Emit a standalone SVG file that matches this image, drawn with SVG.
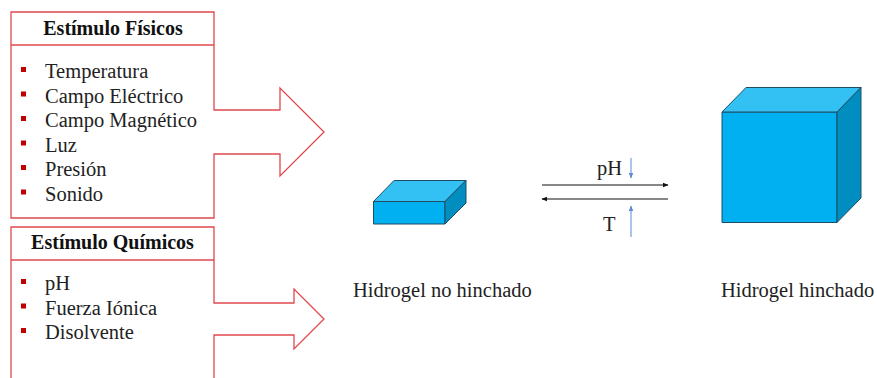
<svg xmlns="http://www.w3.org/2000/svg" width="877" height="378" viewBox="0 0 877 378">
<defs>
<style>
.box{fill:#fff;stroke:#E0474C;stroke-width:1.3}
.t{font-family:"Liberation Serif","Times New Roman",serif;font-size:20.5px;fill:#222}
.h{font-family:"Liberation Serif","Times New Roman",serif;font-size:20px;font-weight:bold;fill:#111}
.b{fill:#C00000}
.front{fill:#00B0F0;stroke:#1F4E64;stroke-width:1}
.top{fill:#33C1F3;stroke:#1F4E64;stroke-width:1}
.side{fill:#008DC0;stroke:#1F4E64;stroke-width:1}
.ln{stroke:#111;stroke-width:1.2;fill:none}
.bl{stroke:#5B8BD6;stroke-width:1;fill:none}
</style>
<marker id="ah" viewBox="0 0 10 10" refX="9" refY="5" markerWidth="6" markerHeight="6" orient="auto" markerUnits="userSpaceOnUse">
<path d="M0,1 L10,5 L0,9 z" fill="#111"/>
</marker>
<marker id="bh" viewBox="0 0 10 10" refX="9" refY="5" markerWidth="6" markerHeight="6" orient="auto" markerUnits="userSpaceOnUse">
<path d="M0,1 L10,5 L0,9 z" fill="#5B8BD6"/>
</marker>
</defs>

<g id="fisicos">
<path class="box" d="M11,12 H214 V110 H280 V88 L324,132 L280,176 V154 H214 V218 H11 Z"/>
<line x1="11" y1="45" x2="214" y2="45" stroke="#E0474C" stroke-width="1.3"/>
<text class="h" x="113" y="35" text-anchor="middle">Estímulo Físicos</text>
<rect class="b" x="21" y="67" width="5" height="5"/>
<rect class="b" x="21" y="91.5" width="5" height="5"/>
<rect class="b" x="21" y="116" width="5" height="5"/>
<rect class="b" x="21" y="140.5" width="5" height="5"/>
<rect class="b" x="21" y="165" width="5" height="5"/>
<rect class="b" x="21" y="189.5" width="5" height="5"/>
<text class="t" x="45" y="78">Temperatura</text>
<text class="t" x="45" y="102.5">Campo Eléctrico</text>
<text class="t" x="45" y="127">Campo Magnético</text>
<text class="t" x="45" y="151.5">Luz</text>
<text class="t" x="45" y="176">Presión</text>
<text class="t" x="45" y="200.5">Sonido</text>
</g>

<g id="quimicos">
<path class="box" d="M11,380 V227 H214 V303 H294 V289 L324,319 L294,349 V335 H214 V380"/>
<line x1="11" y1="260" x2="214" y2="260" stroke="#E0474C" stroke-width="1.3"/>
<text class="h" x="112.5" y="248.5" text-anchor="middle">Estímulo Químicos</text>
<rect class="b" x="21" y="279" width="5" height="5"/>
<rect class="b" x="21" y="303.5" width="5" height="5"/>
<rect class="b" x="21" y="328" width="5" height="5"/>
<text class="t" x="45" y="290">pH</text>
<text class="t" x="45" y="314.5">Fuerza Iónica</text>
<text class="t" x="45" y="339">Disolvente</text>
</g>

<g id="hidrogel-no-hinchado">
<polygon class="front" points="373.5,201.5 445,201.5 445,224 373.5,224"/>
<polygon class="top" points="373.5,201.5 394,180.5 466,180.5 445,201.5"/>
<polygon class="side" points="445,201.5 466,180.5 466,203 445,224"/>
<text class="t" x="353" y="297">Hidrogel no hinchado</text>
</g>

<g id="hidrogel-hinchado">
<polygon class="front" points="722,112 837,112 837,222.5 722,222.5"/>
<polygon class="top" points="722,112 746,87.5 861,87.5 837,112"/>
<polygon class="side" points="837,112 861,87.5 861,198 837,222.5"/>
<text class="t" x="721" y="297">Hidrogel hinchado</text>
</g>

<g id="connectors">
<line class="ln" x1="542" y1="185" x2="668" y2="185" marker-end="url(#ah)"/>
<line class="ln" x1="668" y1="199" x2="542" y2="199" marker-end="url(#ah)"/>
<line class="bl" x1="631" y1="158" x2="631" y2="178" marker-end="url(#bh)"/>
<line class="bl" x1="631" y1="237" x2="631" y2="206" marker-end="url(#bh)"/>
<text class="t" x="597" y="175">pH</text>
<text class="t" x="603" y="231">T</text>
</g>
</svg>
